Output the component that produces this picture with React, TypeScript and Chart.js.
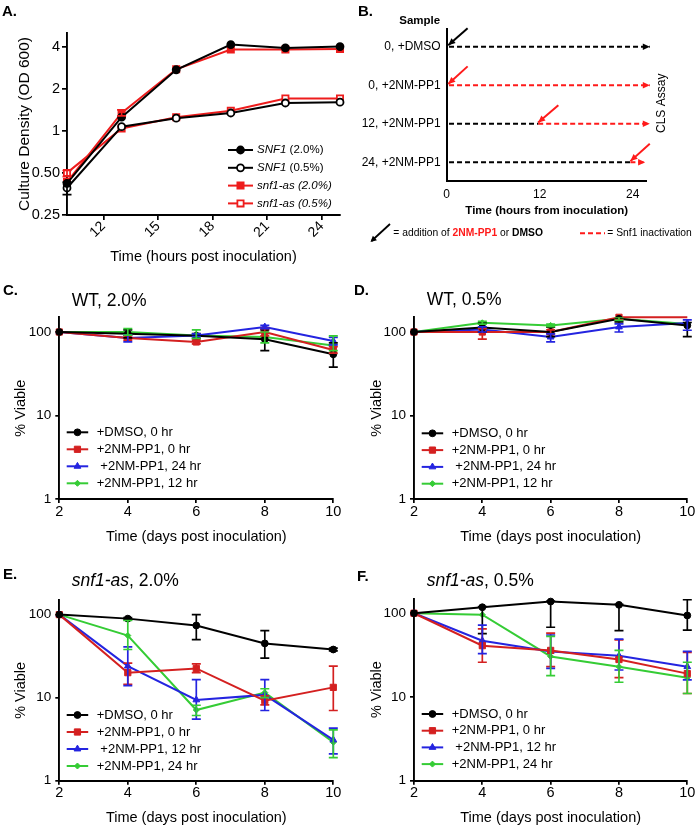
import React, { useEffect, useRef } from "react";
import { Chart, registerables } from "chart.js";
import { drawPoint } from "chart.js/helpers";

Chart.register(...registerables);

const FONT = "'Liberation Sans', Arial, Helvetica, sans-serif";
Chart.defaults.font.family = FONT;
Chart.defaults.color = "#000";

// ---------------- Panel A : growth curves ----------------
const hoursA = [10, 13, 16, 19, 22, 25];
const hourTicksA = [12, 15, 18, 21, 24];
const odTicksA = [0.25, 0.5, 1, 2, 4];
const odTickLabelsA = ["0.25", "0.50", "1", "2", "4"];
const snf1HighA = [0.42, 1.25, 2.73, 4.13, 3.91, 4.0];
const snf1LowA = [0.39, 1.07, 1.23, 1.34, 1.58, 1.6];
const asHighA = [0.43, 1.34, 2.75, 3.81, 3.81, 3.85];
const asLowA = [0.5, 1.04, 1.25, 1.39, 1.7, 1.7];
const snf1LowLoA = [0.35, null, null, null, null, null];
const snf1LowHiA = [0.43, null, null, null, null, null];
const asLowLoA = [0.47, null, null, null, null, null];
const asLowHiA = [0.52, null, null, null, null, null];
const asHighLoA = [null, 1.28, null, null, null, null];
const asHighHiA = [null, 1.41, null, null, null, null];

// ---------------- Panel B : schematic ----------------
const rowLabelsB = ["24, +2NM-PP1", "12, +2NM-PP1", "0, +2NM-PP1", "0, +DMSO"]; // rows 1..4
const rowValuesB = [1, 2, 3, 4];
const hourTicksB = [0, 12, 24];
const segRowB = [4, 3, 2, 2, 1, 1];
const segFromB = [0.3, 0.3, 0.3, 11.8, 0.3, 23.7];
const segToB = [26.2, 26.2, 11.8, 26.2, 23.7, 25.6];
const segInactiveB = [false, true, false, true, false, true];
const segArrowB = [true, true, false, true, false, true];
const addFromXB = [2.7, 2.7, 14.4, 26.2];
const addFromYB = [4.48, 3.49, 2.48, 1.48];
const addToXB = [0.2, 0.2, 11.8, 23.7];
const addToYB = [4.04, 3.03, 2.03, 1.03];
const addDrugB = [false, true, true, true];

// ---------------- Panels C-F : viability ----------------
const days = [2, 4, 6, 8, 10];
const dayTicks = [2, 4, 6, 8, 10];
const viableTicks = [1, 10, 100];

// C: WT, 2.0%
const dmsoC = [100, 95, 90, 82, 54];
const dmsoLoC = [null, 85, 84, 60, 38];
const dmsoHiC = [null, 106, 96, 106, 74];
const pp0C = [100, 85, 76, 100, 61];
const pp0LoC = [null, 80, 72, 90, 56];
const pp0HiC = [null, 90, 80, 110, 67];
const pp24C = [100, 85, 91, 115, 78];
const pp24LoC = [null, 76, 88, 110, 70];
const pp24HiC = [null, 92, 95, 120, 86];
const pp12C = [100, 100, 91, 87, 69];
const pp12LoC = [null, 92, 84, 74, 60];
const pp12HiC = [null, 110, 106, 100, 90];

// D: WT, 0.5%
const dmsoD = [100, 113, 100, 144, 120];
const dmsoLoD = [null, 100, 88, 132, 88];
const dmsoHiD = [null, 128, 114, 155, 130];
const pp0D = [100, 100, 100, 150, 150];
const pp0LoD = [null, 82, 95, 140, null];
const pp0HiD = [null, 110, 106, 160, null];
const pp24D = [100, 107, 87, 115, 128];
const pp24LoD = [null, 100, 76, 100, 105];
const pp24HiD = [null, 115, 95, 125, 140];
const pp12D = [100, 129, 120, 144, 125];
const pp12LoD = [null, 124, 116, 138, null];
const pp12HiD = [null, 134, 124, 150, null];

// E: snf1-as, 2.0%
const dmsoE = [100, 89.5, 74, 45, 38];
const dmsoLoE = [null, 87, 50, 30, 36.5];
const dmsoHiE = [null, 92, 100, 64, 39.5];
const pp0E = [100, 20, 22.5, 9.2, 13.3];
const pp0LoE = [null, 14.5, 20, 8.2, 7];
const pp0HiE = [null, 26, 25.5, 10.5, 24];
const pp12E = [100, 24, 9.4, 10.8, 3.1];
const pp12LoE = [null, 14, 5.5, 7, 2.1];
const pp12HiE = [null, 41, 16.5, 16.5, 4.3];
const pp24E = [100, 56, 7.1, 11.5, 2.9];
const pp24LoE = [null, 38, 6.1, 10, 1.9];
const pp24HiE = [null, 85, 8.1, 12.8, 4.1];

// F: snf1-as, 0.5%
const dmsoF = [100, 118, 138, 126, 94];
const dmsoLoF = [null, 57, 68, 62, 63];
const dmsoHiF = [null, 120, 140, 128, 145];
const pp0F = [100, 41, 36, 28, 19];
const pp0LoF = [null, 26, 23, 17, 11];
const pp0HiF = [null, 65, 58, 48, 34];
const pp12F = [100, 47, 35, 31, 23];
const pp12LoF = [null, 33, 22, 21, 16];
const pp12HiF = [null, 72, 55, 49, 35];
const pp24F = [100, 96, 30.5, 23, 17];
const pp24LoF = [null, null, 18, 15, 11];
const pp24HiF = [null, null, 53, 36, 26];

// ---------------- styling ----------------
const BLACK = "#000000";
const RED = "#d42020";
const BLUE = "#2424e0";
const GREEN = "#35cc35";
const RED_A = "#ee1c1c";
const RED_B = "#ff1a1a";

type Box = { left: number; top: number; width: number; height: number };
type Area = { l: number; t: number; r: number; b: number };
type Part = { t: string; italic?: boolean; bold?: boolean; color?: string };

function frame(box: Box, area: Area, yTitleX: number | null, ySize: number, xTitleY: number, xSize: number) {
  const yLH = ySize * 1.2;
  const xLH = xSize * 1.2;
  const padL = yTitleX == null ? 0 : yTitleX - box.left - yLH / 2;
  const xBottom = xTitleY + xLH / 2;
  return {
    padding: {
      left: padL,
      top: area.t - box.top,
      right: box.left + box.width - area.r,
      bottom: box.top + box.height - xBottom,
    },
    yWidth: area.l - box.left - padL,
    xHeight: xBottom - area.b,
  };
}

function fontStr(size: number, italic?: boolean, bold?: boolean) {
  return `${italic ? "italic " : ""}${bold ? "bold " : ""}${size}px ${FONT}`;
}

function drawParts(ctx: CanvasRenderingContext2D, parts: Part[], x: number, y: number, size: number) {
  let cx = x;
  ctx.textAlign = "left";
  ctx.textBaseline = "middle";
  for (const p of parts) {
    ctx.font = fontStr(size, p.italic, p.bold);
    ctx.fillStyle = p.color || "#000";
    ctx.fillText(p.t, cx, y);
    cx += ctx.measureText(p.t).width;
  }
}

function arrowHead(ctx: CanvasRenderingContext2D, x0: number, y0: number, x1: number, y1: number, len: number, hw: number, color: string) {
  const a = Math.atan2(y1 - y0, x1 - x0);
  ctx.save();
  ctx.translate(x1, y1);
  ctx.rotate(a);
  ctx.beginPath();
  ctx.moveTo(0, 0);
  ctx.lineTo(-len, -hw);
  ctx.lineTo(-len, hw);
  ctx.closePath();
  ctx.fillStyle = color;
  ctx.fill();
  ctx.restore();
}

const errorBarPlugin = {
  id: "errorBars",
  afterDatasetsDraw(chart: any) {
    const ctx = chart.ctx as CanvasRenderingContext2D;
    const ys = chart.scales.y;
    const ca = chart.chartArea;
    chart.data.datasets.forEach((ds: any, di: number) => {
      const lo = ds.errLo;
      const hi = ds.errHi;
      if (!lo || !hi) return;
      const meta = chart.getDatasetMeta(di);
      ctx.save();
      ctx.beginPath();
      ctx.rect(ca.left - 20, ca.top, ca.right - ca.left + 40, ca.bottom - ca.top + 20);
      ctx.clip();
      ctx.strokeStyle = ds.borderColor;
      ctx.lineWidth = 1.7;
      const cap = 4.5;
      meta.data.forEach((pt: any, i: number) => {
        if (lo[i] == null || hi[i] == null) return;
        const x = pt.x;
        const y1 = ys.getPixelForValue(lo[i]);
        const y2 = ys.getPixelForValue(hi[i]);
        ctx.beginPath();
        ctx.moveTo(x, y1);
        ctx.lineTo(x, y2);
        ctx.moveTo(x - cap, y1);
        ctx.lineTo(x + cap, y1);
        ctx.moveTo(x - cap, y2);
        ctx.lineTo(x + cap, y2);
        ctx.stroke();
      });
      ctx.restore();
    });
  },
};

type LegendCfg = { x: number; y: number; rowH: number; lineLen: number; textX: number; size: number; items: { ds: number; parts: Part[] }[] };

function makeLegendPlugin(cfg: LegendCfg) {
  return {
    id: "lineLegend",
    afterDraw(chart: any) {
      const ctx = chart.ctx as CanvasRenderingContext2D;
      cfg.items.forEach((item, i) => {
        const ds = chart.data.datasets[item.ds];
        const y = cfg.y + i * cfg.rowH;
        const r = Array.isArray(ds.pointRadius) ? ds.pointRadius[0] : ds.pointRadius;
        ctx.save();
        ctx.strokeStyle = ds.borderColor;
        ctx.lineWidth = ds.borderWidth;
        ctx.beginPath();
        ctx.moveTo(cfg.x, y);
        ctx.lineTo(cfg.x + cfg.lineLen, y);
        ctx.stroke();
        ctx.fillStyle = ds.pointBackgroundColor;
        ctx.strokeStyle = ds.pointBorderColor;
        ctx.lineWidth = ds.pointBorderWidth;
        drawPoint(ctx, { pointStyle: ds.pointStyle, radius: r, rotation: 0, borderWidth: ds.pointBorderWidth } as any, cfg.x + cfg.lineLen / 2, y);
        ctx.restore();
        drawParts(ctx, item.parts, cfg.textX, y, cfg.size);
      });
    },
  };
}

function axisLines(tickLen: number) {
  return {
    grid: { display: true, drawOnChartArea: false, drawTicks: true, tickLength: tickLen, color: "#000", lineWidth: 1.7 },
    border: { display: true, color: "#000", width: 1.9 },
  };
}

function pts(xs: number[], ys: number[]) {
  return xs.map((x, i) => ({ x, y: ys[i] }));
}

// ---------------- Panel A config ----------------
const boxA: Box = { left: 0, top: 0, width: 350, height: 272 };
function buildA() {
  const f = frame(boxA, { l: 67, t: 33, r: 340, b: 215 }, 25, 15.5, 257, 14.5);
  const mk = (values: number[], color: string, marker: string, open: boolean, lo: any[], hi: any[]) => ({
    data: pts(hoursA, values),
    borderColor: color,
    backgroundColor: color,
    pointBackgroundColor: open ? "#ffffff" : color,
    pointBorderColor: color,
    pointBorderWidth: 1.8,
    pointStyle: marker,
    pointRadius: marker === "rect" ? 4.4 : 3.5,
    borderWidth: 2,
    tension: 0,
    clip: false,
    errLo: lo,
    errHi: hi,
  });
  const legend = makeLegendPlugin({
    x: 228, y: 150, rowH: 17.8, lineLen: 25, textX: 257, size: 11.5,
    items: [
      { ds: 0, parts: [{ t: "SNF1", italic: true }, { t: " (2.0%)" }] },
      { ds: 1, parts: [{ t: "SNF1", italic: true }, { t: " (0.5%)" }] },
      { ds: 2, parts: [{ t: "snf1-as (2.0%)", italic: true }] },
      { ds: 3, parts: [{ t: "snf1-as (0.5%)", italic: true }] },
    ],
  });
  return {
    type: "line",
    data: {
      datasets: [
        mk(snf1HighA, BLACK, "circle", false, [], []),
        mk(snf1LowA, BLACK, "circle", true, snf1LowLoA, snf1LowHiA),
        mk(asHighA, RED_A, "rect", false, asHighLoA, asHighHiA),
        mk(asLowA, RED_A, "rect", true, asLowLoA, asLowHiA),
      ],
    },
    options: {
      animation: false,
      responsive: false,
      devicePixelRatio: 1,
      events: [],
      layout: { padding: f.padding },
      plugins: { legend: { display: false }, tooltip: { enabled: false } },
      scales: {
        x: {
          type: "linear", min: 10, max: 25, bounds: "data",
          afterBuildTicks: (s: any) => { s.ticks = hourTicksA.map((v) => ({ value: v })); },
          afterFit: (s: any) => { s.height = f.xHeight; },
          ticks: { font: { size: 14 }, color: "#000", minRotation: 45, maxRotation: 45, autoSkip: false, padding: -2 },
          title: { display: true, text: "Time (hours post inoculation)", font: { size: 14.5 }, color: "#000", padding: 0 },
          ...axisLines(5),
        },
        y: {
          type: "logarithmic", min: 0.25, max: 5, bounds: "data",
          afterBuildTicks: (s: any) => { s.ticks = odTicksA.map((v) => ({ value: v })); },
          afterFit: (s: any) => { s.width = f.yWidth; },
          ticks: { font: { size: 14.5 }, color: "#000", padding: 2, autoSkip: false, callback: (_v: any, i: number) => odTickLabelsA[i] },
          title: { display: true, text: "Culture Density (OD 600)", font: { size: 15.5 }, color: "#000", padding: 0 },
          ...axisLines(5),
        },
      },
    },
    plugins: [errorBarPlugin, legend],
  };
}

// ---------------- Panel B config ----------------
const boxB: Box = { left: 350, top: 0, width: 346, height: 250 };
function buildB() {
  const f = frame(boxB, { l: 446.7, t: 29, r: 646.7, b: 181 }, null, 0, 210.7, 11.5);
  const datasets: any[] = [];
  segRowB.forEach((row, i) => {
    datasets.push({
      data: [{ x: segFromB[i], y: row }, { x: segToB[i], y: row }],
      borderColor: segInactiveB[i] ? RED_B : BLACK,
      borderWidth: 2,
      borderDash: [5, 3],
      pointRadius: 0,
      clip: false,
      arrow: segArrowB[i],
    });
  });
  addFromXB.forEach((x0, i) => {
    datasets.push({
      data: [{ x: x0, y: addFromYB[i] }, { x: addToXB[i], y: addToYB[i] }],
      borderColor: addDrugB[i] ? RED_B : BLACK,
      borderWidth: 2,
      pointRadius: 0,
      clip: false,
      arrow: true,
    });
  });
  const ox = boxB.left;
  const oy = boxB.top;
  const deco = {
    id: "schematic",
    afterDatasetsDraw(chart: any) {
      const ctx = chart.ctx as CanvasRenderingContext2D;
      chart.data.datasets.forEach((ds: any, di: number) => {
        if (!ds.arrow) return;
        const m = chart.getDatasetMeta(di).data;
        const a = m[m.length - 2];
        const b = m[m.length - 1];
        arrowHead(ctx, a.x, a.y, b.x, b.y, 7, 3.2, ds.borderColor);
      });
    },
    afterDraw(chart: any) {
      const ctx = chart.ctx as CanvasRenderingContext2D;
      ctx.save();
      ctx.fillStyle = "#000";
      ctx.textBaseline = "middle";
      ctx.textAlign = "center";
      ctx.font = fontStr(11.5, false, true);
      ctx.fillText("Sample", 419.7 - ox, 20.7 - oy);
      ctx.save();
      ctx.translate(661.7 - ox, 103.3 - oy);
      ctx.rotate(-Math.PI / 2);
      ctx.font = fontStr(12);
      ctx.fillText("CLS Assay", 0, 0);
      ctx.restore();
      // key: addition arrow
      ctx.strokeStyle = "#000";
      ctx.lineWidth = 1.8;
      ctx.beginPath();
      ctx.moveTo(390 - ox, 224 - oy);
      ctx.lineTo(371.5 - ox, 241 - oy);
      ctx.stroke();
      arrowHead(ctx, 390 - ox, 224 - oy, 370.5 - ox, 242 - oy, 6, 3, "#000");
      ctx.restore();
      drawParts(ctx, [{ t: "= addition of " }, { t: "2NM-PP1", bold: true, color: RED_B }, { t: " or " }, { t: "DMSO", bold: true }], 393.3 - ox, 233.3 - oy, 10.3);
      ctx.save();
      ctx.strokeStyle = RED_B;
      ctx.lineWidth = 2;
      ctx.setLineDash([5, 3]);
      ctx.beginPath();
      ctx.moveTo(580 - ox, 233.3 - oy);
      ctx.lineTo(605 - ox, 233.3 - oy);
      ctx.stroke();
      ctx.restore();
      drawParts(ctx, [{ t: "= Snf1 inactivation" }], 607.3 - ox, 233.3 - oy, 10.3);
    },
  };
  return {
    type: "line",
    data: { datasets },
    options: {
      animation: false,
      responsive: false,
      devicePixelRatio: 1,
      events: [],
      layout: { padding: f.padding },
      plugins: { legend: { display: false }, tooltip: { enabled: false } },
      scales: {
        x: {
          type: "linear", min: 0, max: 25.8, bounds: "data",
          afterBuildTicks: (s: any) => { s.ticks = hourTicksB.map((v) => ({ value: v })); },
          afterFit: (s: any) => { s.height = f.xHeight; },
          ticks: { font: { size: 12 }, color: "#000", padding: 6, maxRotation: 0, autoSkip: false },
          title: { display: true, text: "Time (hours from inoculation)", font: { size: 11.5, weight: "bold" }, color: "#000", padding: 0 },
          grid: { display: false, drawTicks: false },
          border: { display: true, color: "#000", width: 2 },
        },
        y: {
          type: "linear", min: 0.514, max: 4.46, bounds: "data",
          afterBuildTicks: (s: any) => { s.ticks = rowValuesB.map((v) => ({ value: v })); },
          afterFit: (s: any) => { s.width = f.yWidth; },
          ticks: { font: { size: 12 }, color: "#000", padding: 6, autoSkip: false, callback: (v: any) => rowLabelsB[Math.round(v) - 1] },
          grid: { display: false, drawTicks: false },
          border: { display: true, color: "#000", width: 2 },
        },
      },
    },
    plugins: [deco],
  };
}

// ---------------- Panels C-F config ----------------
type Series = { values: number[]; lo: any[]; hi: any[]; color: string; marker: string; radius: number | number[]; label: Part[] };

function buildViability(box: Box, area: Area, yTitleX: number, xTitleY: number, series: Series[], lg: { x: number; y: number; rowH: number; textX: number }) {
  const f = frame(box, area, yTitleX, 14.5, xTitleY, 14.5);
  const legend = makeLegendPlugin({
    x: lg.x - box.left, y: lg.y - box.top, rowH: lg.rowH, lineLen: 21.5, textX: lg.textX - box.left, size: 13,
    items: series.map((s, i) => ({ ds: i, parts: s.label })),
  });
  return {
    type: "line",
    data: {
      datasets: series.map((s) => ({
        data: pts(days, s.values),
        borderColor: s.color,
        backgroundColor: s.color,
        pointBackgroundColor: s.color,
        pointBorderColor: s.color,
        pointBorderWidth: 1,
        pointStyle: s.marker,
        pointRadius: s.radius,
        borderWidth: 2,
        tension: 0,
        clip: false,
        errLo: s.lo,
        errHi: s.hi,
      })),
    },
    options: {
      animation: false,
      responsive: false,
      devicePixelRatio: 1,
      events: [],
      layout: { padding: f.padding },
      plugins: { legend: { display: false }, tooltip: { enabled: false } },
      scales: {
        x: {
          type: "linear", min: 2, max: 10, bounds: "data",
          afterBuildTicks: (s: any) => { s.ticks = dayTicks.map((v) => ({ value: v })); },
          afterFit: (s: any) => { s.height = f.xHeight; },
          ticks: { font: { size: 14.5 }, color: "#000", padding: 0, maxRotation: 0, autoSkip: false },
          title: { display: true, text: "Time (days post inoculation)", font: { size: 14.5 }, color: "#000", padding: 0 },
          ...axisLines(4),
        },
        y: {
          type: "logarithmic", min: 1, max: 150, bounds: "data",
          afterBuildTicks: (s: any) => { s.ticks = viableTicks.map((v) => ({ value: v })); },
          afterFit: (s: any) => { s.width = f.yWidth; },
          ticks: { font: { size: 13.5 }, color: "#000", padding: 4, autoSkip: false, callback: (v: any) => String(v) },
          title: { display: true, text: "% Viable", font: { size: 14.5 }, color: "#000", padding: 0 },
          ...axisLines(4),
        },
      },
    },
    plugins: [errorBarPlugin, legend],
  };
}

const L_DMSO: Part[] = [{ t: "+DMSO, 0 hr" }];
const L_PP0: Part[] = [{ t: "+2NM-PP1, 0 hr" }];
const L_PP24s: Part[] = [{ t: " +2NM-PP1, 24 hr" }];
const L_PP12s: Part[] = [{ t: " +2NM-PP1, 12 hr" }];
const L_PP12: Part[] = [{ t: "+2NM-PP1, 12 hr" }];
const L_PP24: Part[] = [{ t: "+2NM-PP1, 24 hr" }];

const boxC: Box = { left: 0, top: 296, width: 350, height: 250 };
const boxD: Box = { left: 350, top: 296, width: 346, height: 250 };
const boxE: Box = { left: 0, top: 578, width: 350, height: 249 };
const boxF: Box = { left: 350, top: 578, width: 346, height: 249 };

const buildC = () =>
  buildViability(boxC, { l: 59.3, t: 317.3, r: 333.3, b: 499 }, 21, 536.7, [
    { values: dmsoC, lo: dmsoLoC, hi: dmsoHiC, color: BLACK, marker: "circle", radius: 3.4, label: L_DMSO },
    { values: pp0C, lo: pp0LoC, hi: pp0HiC, color: RED, marker: "rect", radius: 4.4, label: L_PP0 },
    { values: pp24C, lo: pp24LoC, hi: pp24HiC, color: BLUE, marker: "triangle", radius: 3.9, label: L_PP24s },
    { values: pp12C, lo: pp12LoC, hi: pp12HiC, color: GREEN, marker: "rectRot", radius: 3, label: L_PP12 },
  ], { x: 66.7, y: 432.3, rowH: 17, textX: 96.7 });

const buildD = () =>
  buildViability(boxD, { l: 414, t: 317.3, r: 687.3, b: 499 }, 376.7, 536.7, [
    { values: dmsoD, lo: dmsoLoD, hi: dmsoHiD, color: BLACK, marker: "circle", radius: 3.4, label: L_DMSO },
    { values: pp0D, lo: pp0LoD, hi: pp0HiD, color: RED, marker: "rect", radius: [4.4, 4.4, 4.4, 4.4, 0], label: L_PP0 },
    { values: pp24D, lo: pp24LoD, hi: pp24HiD, color: BLUE, marker: "triangle", radius: 3.9, label: L_PP24s },
    { values: pp12D, lo: pp12LoD, hi: pp12HiD, color: GREEN, marker: "rectRot", radius: 3, label: L_PP12 },
  ], { x: 421.7, y: 433.3, rowH: 16.8, textX: 451.7 });

const buildE = () =>
  buildViability(boxE, { l: 59.3, t: 600, r: 333.3, b: 780.7 }, 21, 818, [
    { values: dmsoE, lo: dmsoLoE, hi: dmsoHiE, color: BLACK, marker: "circle", radius: 3.4, label: L_DMSO },
    { values: pp0E, lo: pp0LoE, hi: pp0HiE, color: RED, marker: "rect", radius: 4.4, label: L_PP0 },
    { values: pp12E, lo: pp12LoE, hi: pp12HiE, color: BLUE, marker: "triangle", radius: 3.9, label: L_PP12s },
    { values: pp24E, lo: pp24LoE, hi: pp24HiE, color: GREEN, marker: "rectRot", radius: 3, label: L_PP24 },
  ], { x: 66.7, y: 715, rowH: 17, textX: 96.7 });

const buildF = () =>
  buildViability(boxF, { l: 414, t: 598.5, r: 687.3, b: 780.7 }, 376.7, 818, [
    { values: dmsoF, lo: dmsoLoF, hi: dmsoHiF, color: BLACK, marker: "circle", radius: 3.4, label: L_DMSO },
    { values: pp0F, lo: pp0LoF, hi: pp0HiF, color: RED, marker: "rect", radius: 4.4, label: L_PP0 },
    { values: pp12F, lo: pp12LoF, hi: pp12HiF, color: BLUE, marker: "triangle", radius: 3.9, label: L_PP12s },
    { values: pp24F, lo: pp24LoF, hi: pp24HiF, color: GREEN, marker: "rectRot", radius: 3, label: L_PP24 },
  ], { x: 421.7, y: 714, rowH: 16.7, textX: 451.7 });

function ChartCanvas({ box, build }: { box: Box; build: () => any }) {
  const ref = useRef<HTMLCanvasElement>(null);
  useEffect(() => {
    const chart = new Chart(ref.current as HTMLCanvasElement, build());
    return () => chart.destroy();
  }, []);
  return (
    <canvas
      ref={ref}
      width={box.width}
      height={box.height}
      style={{ position: "absolute", left: box.left, top: box.top, width: box.width, height: box.height }}
    />
  );
}

function Text({ left, cap, size, bold, children }: { left: number; cap: number; size: number; bold?: boolean; children: React.ReactNode }) {
  return (
    <div
      style={{
        position: "absolute",
        left,
        top: cap - 0.49 * size,
        fontSize: size,
        lineHeight: 1,
        fontFamily: FONT,
        fontWeight: bold ? "bold" : "normal",
        whiteSpace: "nowrap",
        color: "#000",
      }}
    >
      {children}
    </div>
  );
}

export default function App() {
  return (
    <div style={{ position: "absolute", left: 0, top: 0, width: 696, height: 827, background: "#fff", overflow: "hidden" }}>
      <ChartCanvas box={boxA} build={buildA} />
      <ChartCanvas box={boxB} build={buildB} />
      <ChartCanvas box={boxC} build={buildC} />
      <ChartCanvas box={boxD} build={buildD} />
      <ChartCanvas box={boxE} build={buildE} />
      <ChartCanvas box={boxF} build={buildF} />
      <Text left={2} cap={10} size={15} bold>A.</Text>
      <Text left={358} cap={10} size={15} bold>B.</Text>
      <Text left={3} cap={289} size={15} bold>C.</Text>
      <Text left={354} cap={289} size={15} bold>D.</Text>
      <Text left={3} cap={573} size={15} bold>E.</Text>
      <Text left={357} cap={575} size={15} bold>F.</Text>
      <Text left={71.7} cap={301} size={17.5}>WT, 2.0%</Text>
      <Text left={426.7} cap={300} size={17.5}>WT, 0.5%</Text>
      <Text left={71.7} cap={581} size={17.5}><i>snf1-as</i>, 2.0%</Text>
      <Text left={426.7} cap={581} size={17.5}><i>snf1-as</i>, 0.5%</Text>
    </div>
  );
}
